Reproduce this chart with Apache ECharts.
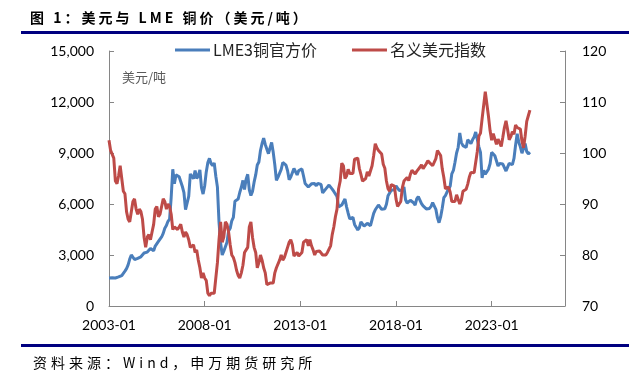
<!DOCTYPE html>
<html>
<head>
<meta charset="utf-8">
<script src="https://cdn.jsdelivr.net/npm/echarts@6/dist/echarts.min.js"></script>
<style>
    body { margin: 0; background: #fff; }
    #wrap { position: relative; width: 629px; height: 375px; }
    #main { position: absolute; left: 0; top: 0; width: 629px; height: 375px; }
    .cap { position: absolute; font-family: "Noto Sans CJK SC", sans-serif; color: #000; white-space: nowrap; }
    #title { left: 30px; top: 8px; font-size: 14px; line-height: 18px; letter-spacing: 3px; font-weight: bold; }
    #source { left: 33px; top: 353px; font-size: 14px; line-height: 18px; letter-spacing: 4px; }
</style>
</head>
<body>
<div id="wrap">
    <div id="main"></div>
    <div class="cap" id="title">图 1：美元与 LME 铜价（美元/吨）</div>
    <div class="cap" id="source">资料来源：Wind，申万期货研究所</div>
</div>
<script>
// 月度数据 2003-01 ~ 2025-01
var startYear = 2003;
var endMonth = '2026-11';   // 横轴终点
var xTickLabels = ['2003-01', '2008-01', '2013-01', '2018-01', '2023-01'];
var seriesNames = ['LME3铜官方价', '名义美元指数'];

var copper = [
    1648,1683,1658,1588,1648,1686,1710,1760,1790,1925,2055,2201,
    2423,2760,3003,2948,2735,2685,2807,2846,2895,3010,3116,3144,
    3170,3254,3379,3394,3247,3524,3614,3797,3857,4059,4270,4577,
    4734,4982,5101,6387,8046,7197,7712,7695,7602,7500,7029,6675,
    5669,5676,6452,7766,7662,7492,7969,7508,7652,8008,6963,6587,
    7061,7888,8439,8685,8383,8262,8414,7634,6991,4926,3717,3000,
    3221,3315,3750,4407,4569,5014,5216,6165,6196,6288,6676,6982,
    7386,6848,7463,7745,6838,6499,6735,7284,7709,8292,8470,9147,
    9556,9868,9503,9493,8960,9068,9619,9040,8300,7394,7581,7566,
    8040,8441,8471,8289,7956,7422,7584,7515,8088,8062,7711,7966,
    8047,8061,7646,7203,7250,7000,6907,7186,7159,7203,7071,7215,
    7291,7149,6650,6674,6891,6821,7113,7002,6872,6737,6713,6446,
    5831,5729,5940,6042,6295,5833,5457,5127,5217,5216,4800,4639,
    4472,4599,4954,4873,4695,4642,4864,4751,4722,4731,5450,5660,
    5745,5941,5820,5684,5600,5720,5985,6485,6583,6812,6829,6834,
    7066,7007,6799,6843,6824,7000,6250,6050,6050,6220,6195,6073,
    5939,6301,6439,6443,6026,5885,5942,5710,5759,5741,5859,6077,
    6031,5688,5183,4900,5239,5754,6372,6498,6705,6704,7063,7772,
    7972,8460,8999,9336,10184,9612,9434,9358,9324,9778,9765,9550,
    9776,9941,10238,10183,9362,9033,7530,7982,7746,7651,8045,8367,
    9036,8955,8836,8815,8234,8386,8447,8352,8276,7940,8172,8394,
    8344,8309,8678,9465,10129,9638,9365,8990,9270,9560,9080,8950,
    9050
];

var dxy = [
    102.5,100.5,100.5,99.0,94.5,94.0,95.5,97.5,95.0,92.5,92.0,88.5,
    87.0,86.5,88.5,90.5,91.0,89.0,88.0,89.0,88.5,87.0,83.5,81.5,
    83.5,84.0,83.0,84.5,86.0,89.0,89.5,87.5,88.0,89.5,91.0,90.5,
    89.0,90.0,89.5,88.0,85.0,85.5,85.5,85.0,85.5,86.0,84.5,83.5,
    84.5,84.0,83.0,81.5,81.5,82.0,80.5,81.0,79.0,77.5,75.5,76.5,
    75.5,75.0,72.5,72.0,72.5,72.8,72.5,75.5,78.5,83.0,86.5,82.5,
    83.5,86.5,86.0,84.5,82.0,80.0,79.5,78.5,77.0,76.0,75.5,76.5,
    78.0,80.5,81.0,81.5,85.5,86.5,83.5,81.5,80.5,77.5,78.5,80.0,
    79.0,77.5,76.5,74.2,74.5,74.5,74.2,74.5,76.5,77.5,77.5,79.0,
    80.0,79.0,79.5,79.5,81.5,82.5,83.0,82.0,79.8,79.8,80.5,79.8,
    79.8,80.5,82.5,82.5,83.0,81.8,83.0,81.8,81.0,80.0,80.7,80.5,
    80.8,80.5,80.0,80.0,80.0,80.5,80.7,81.8,84.0,85.5,87.5,89.0,
    93.0,94.5,98.0,97.5,95.0,95.5,96.8,96.0,95.8,96.0,98.8,98.5,
    99.0,97.0,95.8,94.5,94.5,95.0,96.3,95.5,95.5,97.5,99.5,101.8,
    101.0,100.5,100.5,99.8,97.8,97.0,94.5,93.0,92.5,93.8,93.8,93.5,
    91.0,89.5,89.8,90.5,93.2,94.5,94.5,95.2,94.6,95.8,96.6,96.8,
    95.9,96.4,96.7,97.2,97.7,96.9,96.9,97.9,98.5,98.1,97.9,97.5,
    97.5,98.9,100.5,100.0,99.5,96.9,95.2,93.0,93.2,93.3,92.3,90.5,
    90.3,90.5,91.8,91.5,90.0,90.8,92.5,92.8,92.9,93.9,95.3,96.2,
    95.9,96.1,98.2,100.3,103.3,103.9,106.7,106.9,112.0,111.8,107.2,104.4,
    102.5,103.8,103.8,101.7,102.7,103.0,101.3,103.1,105.0,106.3,104.6,102.6,
    103.2,104.2,103.7,105.5,105.0,105.1,104.7,102.3,101.0,103.3,106.2,107.3,
    108.4
];

// 生成月份类目
var months = [];
for (var y = startYear; ; y++) {
    var done = false;
    for (var m = 1; m <= 12; m++) {
        var s = y + '-' + (m < 10 ? '0' + m : m);
        months.push(s);
        if (s === endMonth) { done = true; break; }
    }
    if (done) break;
}

var axisFont = 'Lato, "Open Sans", sans-serif';
var axisGray = '#868686';

var myChart = echarts.init(document.getElementById('main'));
var option = {
    animation: false,
    backgroundColor: '#fff',
    grid: {
        left: 109,
        right: 64,
        top: 51,
        bottom: 69
    },
    legend: {
        data: seriesNames,
        left: 175,
        top: 42,
        padding: 0,
        icon: 'rect',
        itemWidth: 35,
        itemHeight: 3,
        itemGap: 35,
        textStyle: {
            fontFamily: '"Noto Sans CJK SC", sans-serif',
            fontSize: 16,
            color: '#222',
            padding: [0, 0, 0, -2]
        }
    },
    xAxis: {
        type: 'category',
        data: months,
        boundaryGap: false,
        axisLine: { lineStyle: { color: axisGray, width: 1 } },
        axisTick: {
            inside: true,
            length: 5,
            lineStyle: { color: axisGray },
            interval: function (i, v) { return xTickLabels.indexOf(v) >= 0; }
        },
        axisLabel: {
            interval: function (i, v) { return xTickLabels.indexOf(v) >= 0; },
            margin: 12,
            fontFamily: axisFont,
            fontSize: 14,
            color: '#000'
        },
        splitLine: { show: false }
    },
    yAxis: [{
        type: 'value',
        position: 'left',
        min: 0,
        max: 15000,
        interval: 3000,
        axisLine: { show: true, lineStyle: { color: axisGray } },
        axisTick: { show: true, inside: true, length: 5, lineStyle: { color: axisGray } },
        axisLabel: {
            margin: 15,
            fontFamily: axisFont,
            fontSize: 14,
            color: '#000',
            formatter: function (v) { return v.toLocaleString('en-US'); }
        },
        splitLine: { show: false }
    }, {
        type: 'value',
        position: 'right',
        min: 70,
        max: 120,
        interval: 10,
        axisLine: { show: true, lineStyle: { color: axisGray } },
        axisTick: { show: true, inside: true, length: 5, lineStyle: { color: axisGray } },
        axisLabel: {
            margin: 17,
            fontFamily: axisFont,
            fontSize: 14,
            color: '#000'
        },
        splitLine: { show: false }
    }],
    graphic: [
        { type: 'rect', shape: { x: 21, y: 31, width: 608, height: 3 }, style: { fill: '#000080' } },
        { type: 'rect', shape: { x: 21, y: 344, width: 608, height: 3 }, style: { fill: '#000080' } },
        {
            type: 'text', left: 122, top: 71,
            style: { text: '美元/吨', fontSize: 13, fill: '#595959', fontFamily: '"Noto Sans CJK SC", sans-serif' }
        }
    ],
    series: [{
        name: seriesNames[0],
        type: 'line',
        yAxisIndex: 0,
        data: copper,
        showSymbol: false,
        lineStyle: { color: '#4a7ebb', width: 3 },
        itemStyle: { color: '#4a7ebb' }
    }, {
        name: seriesNames[1],
        type: 'line',
        yAxisIndex: 1,
        data: dxy,
        showSymbol: false,
        lineStyle: { color: '#be4b48', width: 3 },
        itemStyle: { color: '#be4b48' }
    }]
};
myChart.setOption(option);
</script>
</body>
</html>
